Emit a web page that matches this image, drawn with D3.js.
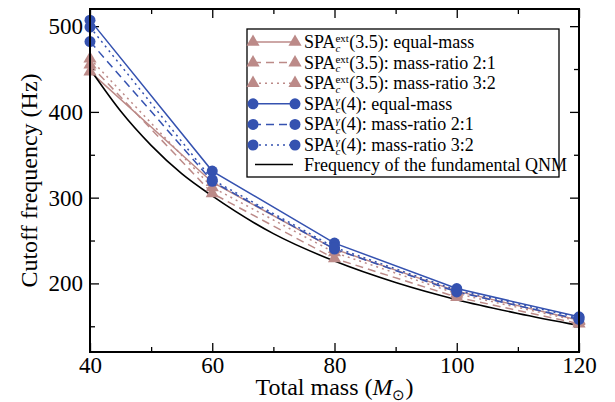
<!DOCTYPE html>
<html>
<head>
<meta charset="utf-8">
<script src="https://cdn.jsdelivr.net/npm/d3@7"></script>
<style>
  body { margin: 0; background: #fff; }
  svg { font-family: "Liberation Serif", "Times New Roman", serif; }
</style>
</head>
<body>
<div id="chart"></div>
<script>
// data
const mass = [40, 60, 80, 100, 120];
const spaExtEqual = [447, 318, 240, 191, 157];
const spaExt21 = [455, 305, 229, 184, 153];
const spaExt32 = [462, 312, 236, 188, 156];
const spaGEqual = [507, 331, 247, 194, 161];
const spaG21 = [482, 319, 240, 190, 158];
const spaG32 = [499, 321, 242, 192, 160];
const qnmMass = [40, 45, 50, 55, 60, 70, 80, 90, 100, 110, 120];
const qnmFreq = [450, 401, 361, 328, 302, 258, 226, 201, 181, 165, 151];
const xTicks = [40, 60, 80, 100, 120];
const yTicks = [200, 300, 400, 500];

const brown = "#bc8a88";
const blue = "#3552b0";

const width = 615, height = 402;
const margin = { top: 9, right: 36, bottom: 50, left: 90 };
const w = width - margin.left - margin.right;
const h = height - margin.top - margin.bottom;

const svg = d3.select("#chart").append("svg")
  .attr("width", width)
  .attr("height", height);

const g = svg.append("g")
  .attr("transform", `translate(${margin.left},${margin.top})`);

const x = d3.scaleLinear().domain([40, 120]).range([0, w]);
const y = d3.scaleLinear().domain([120, 520]).range([h, 0]);

// axes, ticks pointing inward
function styleAxis(sel) {
  sel.select(".domain").remove();
  sel.selectAll(".tick line").attr("stroke", "#000").attr("stroke-width", 1.3);
  sel.selectAll("text").style("font-size", "23px").attr("fill", "#000")
    .style("font-family", '"Liberation Serif", "Times New Roman", serif');
}
g.append("g").attr("transform", `translate(0,${h})`)
  .call(d3.axisBottom(x).tickValues(xTicks).tickSizeInner(-9).tickSizeOuter(0).tickPadding(5))
  .call(styleAxis);
g.append("g").attr("transform", `translate(0,${h})`)
  .call(d3.axisBottom(x).tickValues([50, 70, 90, 110]).tickSize(-5).tickFormat(""))
  .call(styleAxis);
g.append("g")
  .call(d3.axisTop(x).tickValues(xTicks).tickSize(-9).tickFormat(""))
  .call(styleAxis);
g.append("g")
  .call(d3.axisTop(x).tickValues([50, 70, 90, 110]).tickSize(-5).tickFormat(""))
  .call(styleAxis);
g.append("g")
  .call(d3.axisLeft(y).tickValues(yTicks).tickSizeInner(-9).tickSizeOuter(0).tickPadding(7))
  .call(styleAxis);
g.append("g")
  .call(d3.axisLeft(y).tickValues([150, 250, 350, 450]).tickSize(-5).tickFormat(""))
  .call(styleAxis);
g.append("g").attr("transform", `translate(${w},0)`)
  .call(d3.axisRight(y).tickValues(yTicks).tickSize(-9).tickFormat(""))
  .call(styleAxis);
g.append("g").attr("transform", `translate(${w},0)`)
  .call(d3.axisRight(y).tickValues([150, 250, 350, 450]).tickSize(-5).tickFormat(""))
  .call(styleAxis);

const series = [
  { vals: spaExtEqual, color: brown, dash: null, sym: d3.symbolTriangle, label: ["ext", "(3.5): equal-mass"] },
  { vals: spaExt21, color: brown, dash: "8,5", sym: d3.symbolTriangle, label: ["ext", "(3.5): mass-ratio 2:1"] },
  { vals: spaExt32, color: brown, dash: "2,4", sym: d3.symbolTriangle, label: ["ext", "(3.5): mass-ratio 3:2"] },
  { vals: spaGEqual, color: blue, dash: null, sym: d3.symbolCircle, label: ["γ", "(4): equal-mass"] },
  { vals: spaG21, color: blue, dash: "8,5", sym: d3.symbolCircle, label: ["γ", "(4): mass-ratio 2:1"] },
  { vals: spaG32, color: blue, dash: "2,4", sym: d3.symbolCircle, label: ["γ", "(4): mass-ratio 3:2"] }
];

const line = d3.line().x(d => x(d[0])).y(d => y(d[1]));
const symSize = s => s === d3.symbolCircle ? 95 : 75;

// lines
series.forEach(s => {
  g.append("path")
    .datum(mass.map((m, i) => [m, s.vals[i]]))
    .attr("d", line)
    .attr("fill", "none")
    .attr("stroke", s.color)
    .attr("stroke-width", 1.5)
    .attr("stroke-dasharray", s.dash);
});

// QNM curve
g.append("path")
  .datum(qnmMass.map((m, i) => [m, qnmFreq[i]]))
  .attr("d", line.curve(d3.curveMonotoneX))
  .attr("fill", "none")
  .attr("stroke", "#000")
  .attr("stroke-width", 1.6);

// markers
series.forEach(s => {
  g.append("g").selectAll("path")
    .data(mass.map((m, i) => [m, s.vals[i]]))
    .join("path")
    .attr("transform", d => `translate(${x(d[0])},${y(d[1])})`)
    .attr("d", d3.symbol().type(s.sym).size(symSize(s.sym)))
    .attr("fill", s.color);
});

// frame
g.append("rect")
  .attr("width", w).attr("height", h)
  .attr("fill", "none").attr("stroke", "#000").attr("stroke-width", 2);

// legend
const lg = svg.append("g").attr("transform", "translate(247,29)");
lg.append("rect").attr("width", 312).attr("height", 148)
  .attr("fill", "#fff").attr("stroke", "#000").attr("stroke-width", 1.3);

const rowH = 20.6;
const fs = 18;
series.forEach((s, i) => {
  const cy = 13 + i * rowH;
  lg.append("line").attr("x1", 6).attr("x2", 48).attr("y1", cy).attr("y2", cy)
    .attr("stroke", s.color).attr("stroke-width", 1.5).attr("stroke-dasharray", s.dash);
  [6, 48].forEach(px => {
    lg.append("path").attr("transform", `translate(${px},${cy})`)
      .attr("d", d3.symbol().type(s.sym).size(symSize(s.sym)))
      .attr("fill", s.color);
  });
  // one text element: SPA, stacked superscript / subscript, rest
  const t = lg.append("text").attr("x", 57).attr("y", cy + 6)
    .style("font-size", fs + "px");
  const base = t.append("tspan").text("SPA");
  const bw = base.node().getComputedTextLength();
  const sup = t.append("tspan").attr("dy", -6)
    .style("font-size", "11px")
    .style("font-style", s.label[0] === "γ" ? "italic" : "normal")
    .text(s.label[0]);
  const sub = t.append("tspan").attr("x", 57 + bw).attr("dy", 9.5)
    .style("font-size", "11px").style("font-style", "italic").text("c");
  const ew = Math.max(sub.node().getComputedTextLength(), sup.node().getComputedTextLength());
  t.append("tspan").attr("x", 57 + bw + ew + 0.5).attr("dy", -3.5).text(s.label[1]);
});
const qy = 13 + 6 * rowH - 1;
lg.append("line").attr("x1", 8).attr("x2", 46).attr("y1", qy).attr("y2", qy)
  .attr("stroke", "#000").attr("stroke-width", 1.5);
lg.append("text").attr("x", 57).attr("y", qy + 6)
  .style("font-size", fs + "px").text("Frequency of the fundamental QNM");

// axis titles
const xt = svg.append("text")
  .attr("x", margin.left + w / 2).attr("y", 395)
  .attr("text-anchor", "middle")
  .style("font-size", "24px");
xt.append("tspan").text("Total mass (");
xt.append("tspan").style("font-style", "italic").text("M");
xt.append("tspan").attr("dy", 5).style("font-size", "15px").text("⊙");
xt.append("tspan").attr("dy", -5).text(")");

svg.append("text")
  .attr("transform", `translate(37,${margin.top + h / 2}) rotate(-90)`)
  .attr("text-anchor", "middle")
  .style("font-size", "24px")
  .text("Cutoff frequency (Hz)");
</script>
</body>
</html>
